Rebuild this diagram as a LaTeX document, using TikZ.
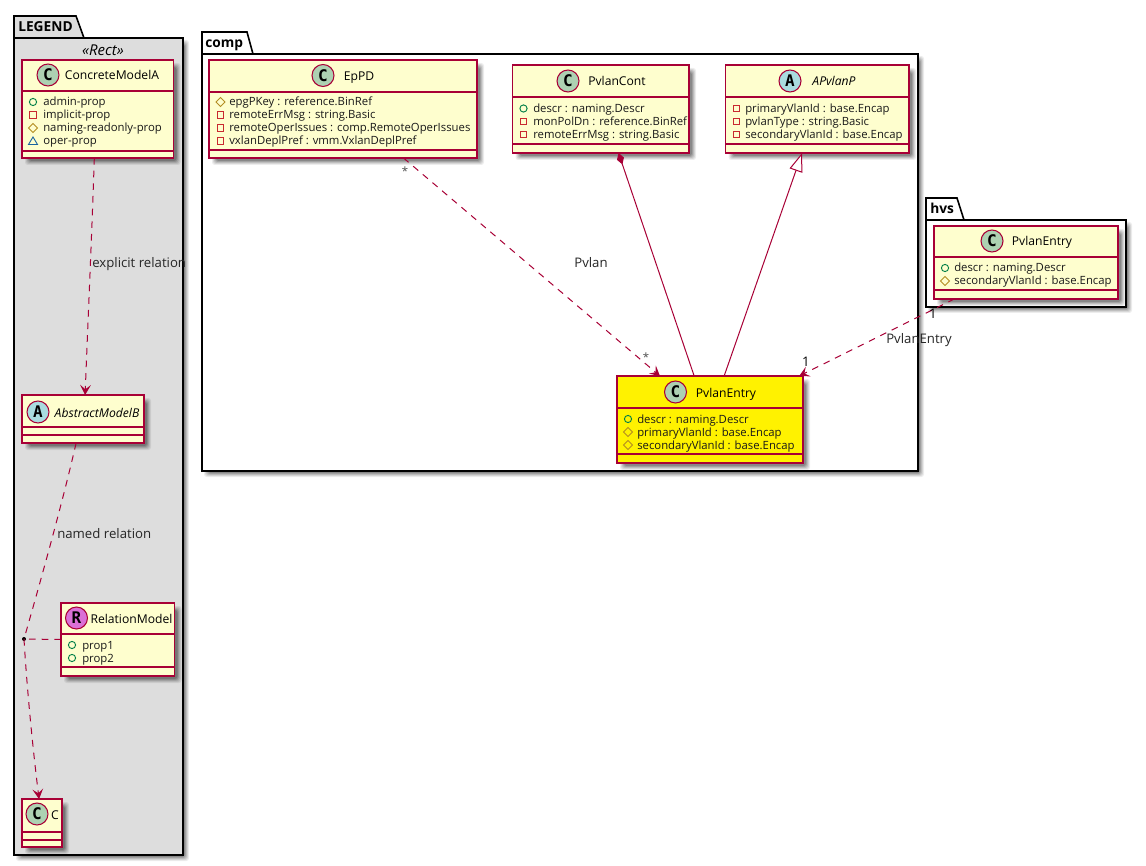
\documentclass[tikz,border=0pt]{standalone}
\usepackage{fontspec}
\setmainfont{Open Sans}
\newfontfamily\spotfont{DejaVu Sans Mono}
\usetikzlibrary{arrows.meta,shapes.geometric}
\definecolor{umlred}{HTML}{A80036}
\definecolor{umlfill}{HTML}{FEFECE}
\definecolor{pub}{HTML}{038048}
\definecolor{priv}{HTML}{C82930}
\definecolor{prot}{HTML}{B38D22}
\definecolor{pack}{HTML}{1963A0}
\definecolor{spotC}{HTML}{ADD1B2}
\definecolor{spotA}{HTML}{A9DCDF}
\definecolor{spotR}{HTML}{DA70D6}
\newcommand{\fattr}{\fontsize{8.5pt}{9pt}\selectfont}
\newcommand{\ftitle}{\fontsize{9.1pt}{10pt}\selectfont}
\newcommand{\flabel}{\fontsize{9.9pt}{11pt}\selectfont}
\newcommand{\fpkg}{\fontsize{10.3pt}{12pt}\selectfont\bfseries}
\tikzset{
  x=0.75pt,y=-0.75pt,
  pkgbody/.style={draw=black,line width=1.2pt,inner sep=0,outer sep=0},
  classbox/.style={draw=umlred,line width=1pt,inner sep=0,outer sep=0},
  classsep/.style={draw=umlred,line width=1pt},
  spot/.style={circle,draw=umlred,line width=0.8pt,minimum size=16.5pt,inner sep=0,text=black,font=\spotfont\bfseries\fontsize{12pt}{12pt}\selectfont},
  attrtext/.style={anchor=base west,inner sep=0,font=\fattr,text=black!90},
  titletext/.style={anchor=base,inner sep=0,font=\ftitle,text=black},
  lbl/.style={anchor=base,inner sep=0,font=\flabel,text=black!85},
  card/.style={anchor=base,inner sep=0,font=\flabel,text=black},
  rel/.style={draw=umlred,line width=0.75pt},
  dep/.style={rel,dash pattern=on 5pt off 4.5pt},
  depdash/.style={dep,-{Stealth[length=7.5pt,width=8pt,inset=3.2pt,fill=umlred]}},
}
\newcounter{auton}
\newcommand{\softshadow}[5][5]{%
  \foreach \k/\o in {1/0.07,2/0.09,3/0.11,4/0.14,5/0.17}{%
    \fill[black,opacity=\o,rounded corners=2pt]
      ({#2+#1+\k-3},{#3+#1+\k-3}) rectangle ({#4+#1-\k+3},{#5+#1-\k+3});}%
}
% name x1 y1 x2 y2 sep1 sep2 fill
\newcommand{\umlclass}[8]{%
  \softshadow{#2}{#3}{#4}{#5}
  \pgfmathsetmacro{\cx}{(#2+#4)/2}\pgfmathsetmacro{\cy}{(#3+#5)/2}%
  \pgfmathsetmacro{\ww}{(#4-#2)*0.75}\pgfmathsetmacro{\hh}{(#5-#3)*0.75}%
  \node[classbox,fill=#8,minimum width=\ww pt,minimum height=\hh pt] (#1) at (\cx,\cy) {};
  \draw[classsep] (#2,#6) -- (#4,#6);
  \draw[classsep] (#2,#7) -- (#4,#7);
}
% x y letter colour
\newcommand{\umlspot}[4]{%
  \stepcounter{auton}%
  \node[spot,fill=#4] (spot\theauton) at (#1,#2) {#3};
}
\newcommand{\umlt}[3]{%
  \stepcounter{auton}%
  \node[titletext] (title\theauton) at (#1,#2) {#3};
}
\newcommand{\icon}[3]{%
  \ifx#3o\draw[pub,line width=0.7pt] (#1,#2) circle (3.6);\fi
  \ifx#3s\draw[priv,line width=0.7pt] ({#1-3.3},{#2-3.3}) rectangle ({#1+3.3},{#2+3.3});\fi
  \ifx#3d\draw[prot,line width=0.7pt] ({#1-4.5},#2) -- (#1,{#2-4.5}) -- ({#1+4.5},#2) -- (#1,{#2+4.5}) -- cycle;\fi
  \ifx#3t\draw[pack,line width=0.7pt] ({#1-4.5},{#2+3.5}) -- (#1,{#2-4}) -- ({#1+4.5},{#2+3.5}) -- cycle;\fi
}
% icon-x text-x y-centre type text
\newcommand{\attr}[5]{%
  \stepcounter{auton}%
  \icon{#1}{#3}{#4}
  \node[attrtext] (attr\theauton) at (#2,{#3+4}) {#5};
}
\begin{document}
\begin{tikzpicture}
\useasboundingbox (0,0) rectangle (1146,866);
\fill[white] (0,0) rectangle (1146,866);

% ---- packages ----
% LEGEND
\softshadow[4]{14}{38}{183}{855}
\node[pkgbody,fill=black!13.3,minimum width=126.75pt,minimum height=612.75pt] (legend) at (98.5,446.5) {};
\draw[pkgbody,fill=black!13.3] (14,38) -- (14,16) -- (76,16) -- (84,38) -- cycle;
\node[anchor=base west,inner sep=0,font=\fpkg] (legendname) at (18,32) {LEGEND};
% comp
\softshadow[4]{202}{54}{918}{471}
\node[pkgbody,fill=white,minimum width=537pt,minimum height=312.75pt] (comp) at (560,262.5) {};
\draw[pkgbody,fill=white] (202,54) -- (202,32) -- (247,32) -- (253,54) -- cycle;
\node[anchor=base west,inner sep=0,font=\fpkg] (compname) at (205,48) {comp};
% hvs
\softshadow[4]{926}{220}{1126}{307}
\node[pkgbody,fill=white,minimum width=150pt,minimum height=65.25pt] (hvs) at (1026,263.5) {};
\draw[pkgbody,fill=white] (926,220) -- (926,198) -- (957,198) -- (964,220) -- cycle;
\node[anchor=base west,inner sep=0,font=\fpkg] (hvsname) at (930,214) {hvs};

% ---- LEGEND contents ----
\node[anchor=base,inner sep=0,font=\fontsize{11.2pt}{12pt}\selectfont\itshape] (rectlabel) at (103,55.5) {«Rect»};

\umlclass{cma}{22}{60}{173.5}{158}{91}{151}{umlfill}
\umlspot{48}{75}{C}{spotC}
\umlt{112}{80}{ConcreteModelA}
\attr{33}{43}{102}{o}{admin-prop}
\attr{33}{43}{115}{s}{implicit-prop}
\attr{33}{43}{128}{d}{naming-readonly-prop}
\attr{33}{43}{141}{t}{oper-prop}

\umlclass{amb}{22}{395}{144}{443}{427}{435}{umlfill}
\umlspot{38}{412}{A}{spotA}
\umlt{97}{417}{\itshape AbstractModelB}

\umlclass{rm}{61}{603}{174.5}{676}{634}{667}{umlfill}
\umlspot{76.5}{618}{R}{spotR}
\umlt{131.5}{623}{RelationModel}
\attr{72}{82}{645}{o}{prop1}
\attr{72}{82}{658}{o}{prop2}

\umlclass{cc}{22}{799}{62}{847}{832}{840}{umlfill}
\umlspot{37}{814}{C}{spotC}
\umlt{55}{819}{C}

% ---- comp contents ----
\umlclass{eppd}{209}{60}{477}{158}{92}{150}{umlfill}
\umlspot{323}{75.5}{C}{spotC}
\umlt{359}{81}{EpPD}
\attr{220.5}{229}{102}{d}{epgPKey : reference.BinRef}
\attr{220.5}{229}{115}{s}{remoteErrMsg : string.Basic}
\attr{220.5}{229}{128}{s}{remoteOperIssues : comp.RemoteOperIssues}
\attr{220.5}{229}{141}{s}{vxlanDeplPref : vmm.VxlanDeplPref}

\umlclass{pcont}{512.5}{65}{689}{153}{97}{144}{umlfill}
\umlspot{568}{81}{C}{spotC}
\umlt{617}{86}{PvlanCont}
\attr{523.5}{533}{108.5}{o}{descr : naming.Descr}
\attr{523.5}{533}{121.5}{s}{monPolDn : reference.BinRef}
\attr{523.5}{533}{134.5}{s}{remoteErrMsg : string.Basic}

\umlclass{apv}{725.5}{65}{909}{153}{97}{144}{umlfill}
\umlspot{790}{81}{A}{spotA}
\umlt{834}{86}{\itshape APvlanP}
\attr{736.5}{745}{108.5}{s}{primaryVlanId : base.Encap}
\attr{736.5}{745}{121.5}{s}{pvlanType : string.Basic}
\attr{736.5}{745}{134.5}{s}{secondaryVlanId : base.Encap}

\umlclass{pe}{617}{376}{803}{463}{408}{454}{yellow}
\umlspot{675.5}{392}{C}{spotC}
\umlt{726}{397}{PvlanEntry}
\attr{628}{637}{419}{o}{descr : naming.Descr}
\attr{628}{637}{432}{d}{primaryVlanId : base.Encap}
\attr{628}{637}{445}{d}{secondaryVlanId : base.Encap}

% ---- hvs contents ----
\umlclass{hpe}{934}{226}{1118}{299}{257}{290}{umlfill}
\umlspot{992}{241}{C}{spotC}
\umlt{1042}{246}{PvlanEntry}
\attr{945}{954}{268}{o}{descr : naming.Descr}
\attr{945}{954}{281}{d}{secondaryVlanId : base.Encap}

% ---- connectors ----
\draw[depdash] (cma.-94.4) .. controls (92,230) and (88,320) .. (amb.85.2);
\node[circle,fill=black,inner sep=0,minimum size=3pt] (dot) at (24,639) {};
\draw[dep] (amb.-106.3) .. controls (62,505) and (38,590) .. (dot.center);
\draw[depdash] (dot.center) .. controls (27,690) and (33,750) .. (cc.97.1);
\draw[dep] (rm.180) -- (dot.center);

\draw[depdash] (eppd.-39.7) -- (pe.139);
\draw[rel,{Diamond[length=9pt,width=5.5pt,fill=umlred]}-] (pcont.-68.6) -- (pe.110.2);
\draw[rel,{Triangle[open,length=14pt,width=10pt,fill=white]}-] (apv.-109.5) -- (pe.72.2);
\draw[depdash] (hpe.-153.75) -- (pe.26.7);

% ---- labels ----
\node[lbl,anchor=base west] (l1) at (92,268) {explicit relation};
\node[lbl,anchor=base west] (l2) at (57,538) {named relation};
\node[lbl] (l3) at (591,268) {Pvlan};
\node[lbl] (l4) at (919,344) {PvlanEntry};
\node[card,font=\fattr,text=black!70] (c1) at (405,176) {*};
\node[card,font=\fattr,text=black!70] (c2) at (646,362) {*};
\node[card] (c3) at (933,319) {1};
\node[card] (c4) at (806,366) {1};
\end{tikzpicture}
\end{document}
